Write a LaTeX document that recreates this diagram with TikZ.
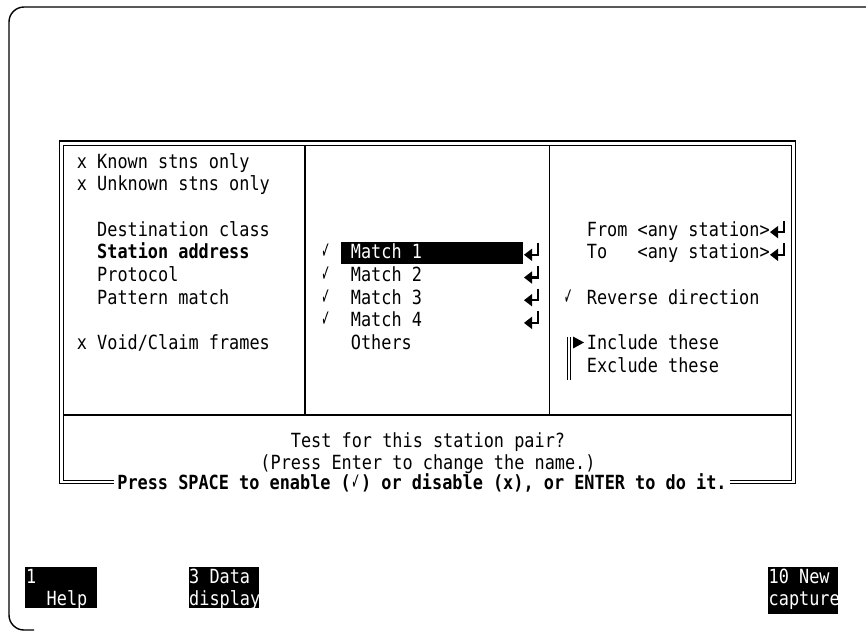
\documentclass[tikz,border=0pt]{standalone}
\usepackage{fontspec}
\usepackage{graphicx}
\newfontfamily\term[FakeStretch=0.865]{DejaVu Sans Mono}
\newfontfamily\symf{DejaVu Sans}
\newcommand\ckglyph{\scalebox{0.6}[1.3]{\symf\fontsize{18}{18}\selectfont ✓}}
\newcommand\ckcell{\makebox[10.15pt][c]{\ckglyph}}
\begin{document}
\begin{tikzpicture}[x=1pt,y=-1pt,
  term/.style={inner sep=0pt, font=\term\fontsize{19.5}{22}\selectfont},
  lbl/.style={term, anchor=base west},
  ctr/.style={term, anchor=base},
  ckmk/.style={inner sep=0pt, anchor=base},
  frameline/.style={line width=1.4pt},
  dblout/.style={line width=1.8pt},
  dblin/.style={line width=0.9pt},
  divider/.style={line width=1.1pt},
  retarrow/.pic={
    \draw[line width=2.2pt] (0,-8.5) -- (0,3) -- (-7,3);
    \fill (-14,3) -- (-6,-3.2) -- (-6,9.2) -- cycle;
  }
]
\useasboundingbox (0,0) rectangle (866,638);

% screen frame (right side runs off the capture)
\draw[frameline, rounded corners=15] (870,7) -- (9,7) -- (9,630) -- (34,630);

% double-ruled dialog box
\draw[dblout] (59.5,141) rectangle (795.5,483.5);
\draw[dblin] (63.5,145) rectangle (791.5,480);
\draw[divider] (63.5,415) -- (791.5,415);
\draw[divider] (305,145) -- (305,415);
\draw[divider] (549.5,145) -- (549.5,415);

% left column: filter options
\node[lbl] (known) at (76.7,168) {x Known stns only};
\node[lbl] (unknown) at (76.7,190.7) {x Unknown stns only};
\node[lbl] (dest) at (97,236.1) {Destination class};
\node[lbl] (stn) at (97,258.8) {\bfseries Station address};
\node[lbl] (proto) at (97,281.5) {Protocol};
\node[lbl] (patt) at (97,304.2) {Pattern match};
\node[lbl] (void) at (76.7,349.6) {x Void/Claim frames};

% middle column: station pairs
\fill (340.5,241.7) rectangle (523,264.3);
\node[lbl, text=white] (m1) at (350.7,258.8) {Match 1};
\node[lbl] (m2) at (350.7,281.5) {Match 2};
\node[lbl] (m3) at (350.7,304.2) {Match 3};
\node[lbl] (m4) at (350.7,326.9) {Match 4};
\node[lbl] (oth) at (350.7,349.6) {Others};
\foreach \y/\n in {258.8/1,281.5/2,304.2/3,326.9/4}{
  \node[ckmk] (ck\n) at (326,\y) {\ckglyph};
  \pic at (538,\y-7) {retarrow};
}

% right column: address range and direction
\node[lbl] (from) at (586.7,236.1) {From <any station>};
\node[lbl] (to) at (586.7,258.8) {To\hspace{30.45pt}<any station>};
\pic at (784,229.1) {retarrow};
\pic at (784,251.8) {retarrow};
\node[ckmk] (ckrev) at (568.5,304.2) {\ckglyph};
\node[lbl] (rev) at (586.7,304.2) {Reverse direction};
\draw[line width=1pt] (567.5,337) -- (567.5,380) (570.5,337) -- (570.5,380);
\fill (584,342.5) -- (573,336.5) -- (573,348.5) -- cycle;
\node[lbl] (incl) at (586.7,349.6) {Include these};
\node[lbl] (excl) at (586.7,372.3) {Exclude these};

% prompt area
\node[ctr] (ask) at (428,447.2) {Test for this station pair?};
\node[ctr] (hint) at (428,469.2) {(Press Enter to change the name.)};
\node[ctr, fill=white, inner xsep=3pt, inner ysep=0pt] (keys) at (422,489.9)
  {\bfseries Press SPACE to enable (\ckcell) or disable (x), or ENTER to do it.};

% function key labels
\fill (25,566.5) rectangle (97,608);
\node[lbl, text=white] (f1a) at (26,583.5) {1};
\node[lbl, text=white] (f1b) at (46.5,605.5) {Help};
\fill (189,566.5) rectangle (259,608);
\node[lbl, text=white] (f3a) at (189,583.5) {3 Data};
\node[lbl, text=white] (f3b) at (189,605.5) {display};
\fill (768,566.5) rectangle (838,614);
\node[lbl, text=white] (f10a) at (768.5,583.5) {10 New};
\node[lbl, text=white] (f10b) at (768.5,605.5) {capture};
\end{tikzpicture}
\end{document}
